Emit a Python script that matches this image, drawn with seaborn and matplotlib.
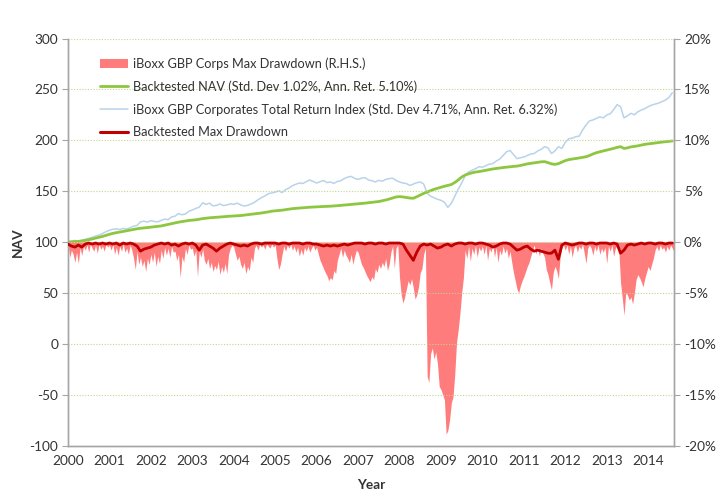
import numpy as np
import matplotlib
matplotlib.use("Agg")
import matplotlib.pyplot as plt
import seaborn as sns
from matplotlib.patches import Patch
from matplotlib.lines import Line2D
from matplotlib.ticker import FuncFormatter

sns.set_style("white")
plt.rcParams['font.family'] = ['Lato', 'DejaVu Sans']
plt.rcParams['axes.unicode_minus'] = False

# monthly series, Jan 2000 .. Aug 2014
index_nav = [
    100.0, 100.8, 101.5, 100.9, 101.6, 102.8, 103.5, 104.6, 105.9, 106.8, 108.3, 110.2,  # 2000
    111.5, 112.6, 113.0, 112.2, 113.4, 112.8, 114.0, 115.5, 116.3, 119.8, 120.5, 119.6,  # 2001
    121.0, 120.2, 119.8, 121.3, 122.5, 122.0, 124.6, 125.4, 128.0, 126.8, 127.5, 130.2,  # 2002
    131.5, 133.0, 134.2, 138.5, 137.0, 138.2, 135.5, 136.0, 137.4, 135.8, 136.4, 137.5,  # 2003
    137.0, 138.2, 136.5, 135.3, 136.0, 137.4, 139.0, 141.5, 143.6, 145.2, 147.5, 148.3,  # 2004
    149.0, 150.3, 148.6, 151.5, 153.0, 155.4, 156.8, 158.0, 157.5, 159.3, 161.0, 159.5,  # 2005
    158.0, 159.2, 160.5, 158.4, 159.0, 157.6, 159.5, 160.2, 162.4, 163.8, 164.5, 162.6,  # 2006
    161.5, 162.8, 163.2, 161.0, 160.2, 159.0, 160.6, 159.8, 161.5, 162.3, 162.8, 160.5,  # 2007
    159.0, 158.0, 157.4, 155.6, 157.0, 158.3, 159.0, 157.0, 148.0, 145.0, 143.5, 142.0,  # 2008
    141.0, 139.0, 134.0, 138.0, 145.0, 152.0, 158.0, 165.0, 169.0, 170.5, 172.0, 174.0,  # 2009
    173.5, 175.0, 176.5, 177.0, 179.5, 181.5, 185.0, 188.7, 190.0, 186.0, 182.0, 182.8,  # 2010
    183.5, 185.0, 186.5, 187.0, 189.5, 191.0, 193.7, 192.5, 187.0, 189.5, 193.7, 192.0,  # 2011
    198.0, 201.5, 202.0, 203.5, 204.0, 210.0, 215.0, 219.0, 220.0, 221.5, 223.0, 222.0,  # 2012
    224.8, 226.0, 230.0, 235.0, 233.0, 222.0, 224.0, 226.5, 225.0, 228.0, 229.7, 231.0,  # 2013
    233.0, 234.6, 235.5, 236.5, 238.0, 239.5, 242.0, 246.7,                              # 2014
]

backtest_nav = [
    100.0, 100.2, 100.4, 100.6, 101.0, 101.5, 102.2, 103.0, 103.8, 104.6, 105.5, 106.6,
    107.6, 108.5, 109.2, 109.8, 110.4, 111.0, 111.7, 112.4, 113.0, 113.5, 113.8, 114.2,
    114.6, 115.0, 115.4, 115.8, 116.5, 117.2, 118.0, 118.8, 119.5, 120.0, 120.6, 121.2,
    121.5, 121.8, 122.4, 123.0, 123.4, 123.8, 124.0, 124.3, 124.6, 124.9, 125.2, 125.4,
    125.6, 125.8, 126.0, 126.4, 126.8, 127.2, 127.6, 128.0, 128.5, 129.0, 129.6, 130.3,
    130.6, 131.0, 131.3, 131.8, 132.3, 132.8, 133.1, 133.4, 133.7, 134.0, 134.2, 134.4,
    134.5, 134.7, 134.9, 135.0, 135.2, 135.4, 135.7, 136.0, 136.3, 136.6, 136.9, 137.1,
    137.4, 137.8, 138.2, 138.6, 139.0, 139.4, 139.8, 140.5, 141.3, 142.2, 143.3, 144.3,
    144.6, 144.3, 143.8, 143.2, 143.0, 144.5, 146.2, 147.8, 149.2, 150.5, 151.8, 152.8,
    153.8, 154.8, 155.6, 156.5, 158.5, 161.0, 163.8, 165.8, 167.0, 168.0, 168.8, 169.2,
    169.8, 170.5, 171.2, 171.8, 172.3, 172.8, 173.2, 173.6, 174.0, 174.3, 174.6, 175.2,
    176.0, 176.8, 177.3, 177.8, 178.3, 178.8, 179.0, 178.0, 176.8, 176.3, 177.0, 178.5,
    180.0, 181.0, 181.5, 182.0, 182.6, 183.2, 183.8, 185.0, 186.5, 187.8, 188.7, 189.5,
    190.3, 191.0, 192.0, 193.0, 193.7, 192.0, 192.5, 193.5, 194.0, 194.5, 195.2, 196.0,
    196.4, 196.9, 197.3, 197.8, 198.2, 198.6, 199.0, 199.3,
]

# backtested max drawdown, %, monthly
backtest_dd = [
    -0.2, -0.4, -0.5, -0.3, -0.5, -0.2, -0.1, -0.2, -0.1, -0.2, -0.1, -0.2,
    -0.1, -0.2, -0.1, -0.3, -0.1, -0.2, -0.1, -0.2, -0.4, -0.9, -0.7, -0.6,
    -0.5, -0.3, -0.2, -0.1, -0.2, -0.1, -0.3, -0.2, -0.4, -0.2, -0.1, -0.2,
    -0.1, -0.3, -0.8, -0.3, -0.2, -0.4, -0.6, -0.9, -0.6, -0.4, -0.2, -0.1,
    -0.2, -0.3, -0.4, -0.3, -0.4, -0.2, -0.1, -0.1, -0.2, -0.1, -0.1, -0.1,
    -0.1, -0.2, -0.1, -0.1, -0.2, -0.1, -0.1, -0.1, -0.2, -0.1, -0.1, -0.2,
    -0.2, -0.3, -0.4, -0.3, -0.4, -0.3, -0.4, -0.3, -0.2, -0.3, -0.2, -0.1,
    -0.1, -0.1, -0.2, -0.1, -0.1, -0.2, -0.1, -0.1, -0.2, -0.1, -0.1, -0.1,
    -0.1, -0.2, -0.8, -1.3, -1.8, -1.0, -0.4, -0.2, -0.3, -0.2, -0.4, -0.6,
    -0.5, -0.3, -0.2, -0.4, -0.2, -0.1, -0.1, -0.2, -0.1, -0.1, -0.2, -0.1,
    -0.1, -0.2, -0.3, -0.5, -0.4, -0.2, -0.1, -0.1, -0.2, -0.5, -0.8, -0.7,
    -0.5, -0.4, -0.7, -0.9, -0.8, -0.9, -1.0, -1.1, -1.1, -0.8, -1.7, -0.3,
    -0.1, -0.2, -0.3, -0.2, -0.1, -0.1, -0.2, -0.1, -0.1, -0.2, -0.1, -0.1,
    -0.1, -0.2, -0.1, -0.2, -1.1, -0.8, -0.3, -0.2, -0.3, -0.2, -0.1, -0.2,
    -0.1, -0.1, -0.2, -0.1, -0.1, -0.2, -0.1, -0.1,
]

# iBoxx GBP Corps max drawdown, %, twice a month
index_dd = [
    0.0, -1.5, -0.8, -1.2, -2.0, -1.0, -2.1, -0.6, -1.3, -0.4, -0.8, -0.3, -1.0, -0.2, -0.6, -0.9, -0.3, -1.1, -0.2, -0.7, -0.4, -0.9, -0.2, -0.5,
    -0.3, -0.8, -0.2, -1.2, -0.5, -1.3, -0.4, -0.9, -0.2, -1.0, -0.6, -1.2, -0.3, -0.8, -1.6, -2.7, -0.9, -2.2, -1.5, -2.4, -1.8, -2.9, -1.6, -2.2,
    -1.2, -2.0, -1.0, -2.4, -1.4, -2.1, -0.8, -1.6, -0.5, -1.3, -0.6, -1.5, -0.4, -1.0, -0.9, -1.8, -1.2, -3.5, -1.4, -2.0, -0.6, -1.2, -0.3, -0.7,
    -0.6, -1.4, -0.8, -3.4, -0.9, -1.5, -0.7, -1.8, -2.2, -1.6, -2.6, -2.0, -2.9, -2.3, -2.7, -1.9, -3.2, -2.4, -3.0, -2.1, -3.1, -1.2, -0.6, -0.3,
    -0.5, -1.2, -1.8, -1.4, -2.2, -2.6, -2.0, -3.1, -2.4, -2.8, -1.5, -2.0, -0.6, -0.3, -0.8, -0.2, -0.5, -0.3, -0.7, -0.2, -0.4, -0.6, -0.2, -0.5,
    -0.3, -1.6, -2.7, -2.2, -1.2, -0.4, -0.9, -0.3, -0.6, -0.2, -0.8, -0.4, -1.0, -0.5, -1.4, -0.7, -1.3, -0.5, -0.9, -0.4, -1.0, -0.6, -0.3, -0.8,
    -0.5, -1.2, -1.8, -2.2, -2.6, -3.0, -3.3, -3.8, -3.5, -3.7, -2.8, -3.1, -1.8, -1.2, -0.6, -1.5, -0.8, -1.3, -1.6, -2.0, -1.2, -2.2, -1.4, -0.8,
    -1.0, -1.6, -2.2, -2.5, -2.9, -3.3, -3.6, -3.9, -3.4, -3.7, -2.6, -3.0, -2.2, -2.6, -2.0, -2.4, -1.6, -2.8, -2.2, -1.0, -0.4, -2.6, -0.6, -0.3,
    -3.5, -5.2, -6.0, -5.4, -4.6, -3.8, -4.2, -3.6, -4.5, -5.6, -5.2, -4.4, -3.0, -2.6, -1.2, -0.6, -13.2, -13.8, -11.0, -10.4, -11.5, -10.8, -12.0, -14.2,
    -14.5, -15.0, -15.5, -18.9, -18.5, -17.5, -15.8, -15.2, -13.0, -9.9, -8.6, -7.0, -5.0, -3.5, -0.8, -1.6, -0.4, -1.9, -0.6, -1.2, -0.3, -1.5, -0.5, -0.9,
    -0.4, -1.2, -0.3, -1.8, -0.6, -1.0, -0.2, -1.5, -0.5, -2.0, -0.8, -1.3, -0.4, -1.1, -0.6, -1.6, -0.9, -2.0, -3.0, -3.8, -4.6, -5.0, -4.3, -3.8,
    -3.4, -2.9, -2.4, -2.0, -1.4, -0.8, -0.3, -1.2, -0.5, -1.4, -0.6, -1.1, -1.5, -2.7, -3.2, -4.0, -4.7, -3.0, -2.4, -2.8, -3.6, -1.5, -0.6, -0.3,
    -0.8, -0.3, -1.2, -0.4, -1.5, -0.6, -0.3, -1.0, -0.4, -0.7, -0.2, -1.1, -2.1, -0.6, -0.3, -0.6, -1.3, -0.4, -0.9, -0.3, -1.2, -0.6, -1.0, -0.5,
    -2.1, -0.4, -0.9, -0.3, -1.4, -0.6, -0.3, -0.8, -4.0, -5.5, -7.2, -5.0, -5.2, -5.7, -5.4, -6.1, -5.0, -3.7, -3.2, -3.5, -3.9, -4.4, -3.6, -3.0,
    -2.4, -2.8, -2.2, -1.6, -0.8, -0.4, -0.9, -0.3, -0.7, -0.5, -1.0, -0.4, -0.8, -0.3, -0.6, -1.0,
]

labels = [
    "iBoxx GBP Corps Max Drawdown (R.H.S.)",
    "Backtested NAV (Std. Dev 1.02%, Ann. Ret. 5.10%)",
    "iBoxx GBP Corporates Total Return Index (Std. Dev 4.71%, Ann. Ret. 6.32%)",
    "Backtested Max Drawdown",
]
years = list(range(2000, 2015))

t_month = 2000 + np.arange(len(index_nav)) / 12
t_half = 2000 + np.arange(len(index_dd)) / 24

PINK = "#ff7c7c"
GREEN = "#8dc63f"
BLUE = "#b9d3ea"
DARKRED = "#c00000"
GRAY = "#a6a6a6"
TXT = "#333333"
FS = 9.2

fig = plt.figure(figsize=(7.2, 4.97), dpi=100)
ax = fig.add_axes([0.0944, 0.1036, 0.8421, 0.8189])
ax2 = ax.twinx()

# right axis: drawdowns
ax2.fill_between(t_half, index_dd, 0, color=PINK, lw=0, zorder=1)
sns.lineplot(x=t_month, y=backtest_dd, ax=ax2, color=DARKRED, lw=2.0, zorder=3)

# left axis: NAV lines
sns.lineplot(x=t_month, y=index_nav, ax=ax, color=BLUE, lw=1.1)
sns.lineplot(x=t_month, y=backtest_nav, ax=ax, color=GREEN, lw=2.0)

ax.set_xlim(2000, 2014.63)
ax.set_ylim(-100, 300)
ax.set_yticks(range(-100, 301, 50))
ax.yaxis.set_major_formatter(FuncFormatter(lambda v, p: f"{v:.0f}"))
ax.set_xticks(years)
ax.set_xticklabels([str(y) for y in years])

ax2.set_ylim(-20, 20)
ax2.set_yticks(range(-20, 21, 5))
ax2.yaxis.set_major_formatter(FuncFormatter(lambda v, p: f"{v:.0f}%"))

ax2.set_axisbelow('line')
ax2.grid(axis='y', color="#bcd98f", linestyle=(0, (1, 1.5)), lw=0.8)
ax.grid(False)

for a in (ax, ax2):
    a.spines['top'].set_visible(False)
    for s in ('left', 'right', 'bottom'):
        a.spines[s].set_color(GRAY)
        a.spines[s].set_linewidth(1.0)
    a.tick_params(direction='out', length=4, width=0.8, color=GRAY,
                  labelsize=FS + 0.6, labelcolor=TXT, pad=3)

ax.set_ylabel("NAV", fontsize=FS + 0.6, fontweight='bold', color=TXT)
ax.set_xlabel("Year", fontsize=FS + 0.6, fontweight='bold', color=TXT)
ax.yaxis.set_label_coords(-0.073, 0.5)
ax.xaxis.set_label_coords(0.5, -0.083)
ax2.set_ylabel("")

handles = [
    Patch(facecolor=PINK, edgecolor='none'),
    Line2D([], [], color=GREEN, lw=2.0),
    Line2D([], [], color=BLUE, lw=1.1),
    Line2D([], [], color=DARKRED, lw=2.2),
]
ax2.legend(handles, labels, loc='upper left', bbox_to_anchor=(0.034, 0.982),
           frameon=False, fontsize=FS, handlelength=2.2, handletextpad=0.35,
           labelspacing=0.82, labelcolor=TXT)

fig.savefig("out.png", dpi=100)
